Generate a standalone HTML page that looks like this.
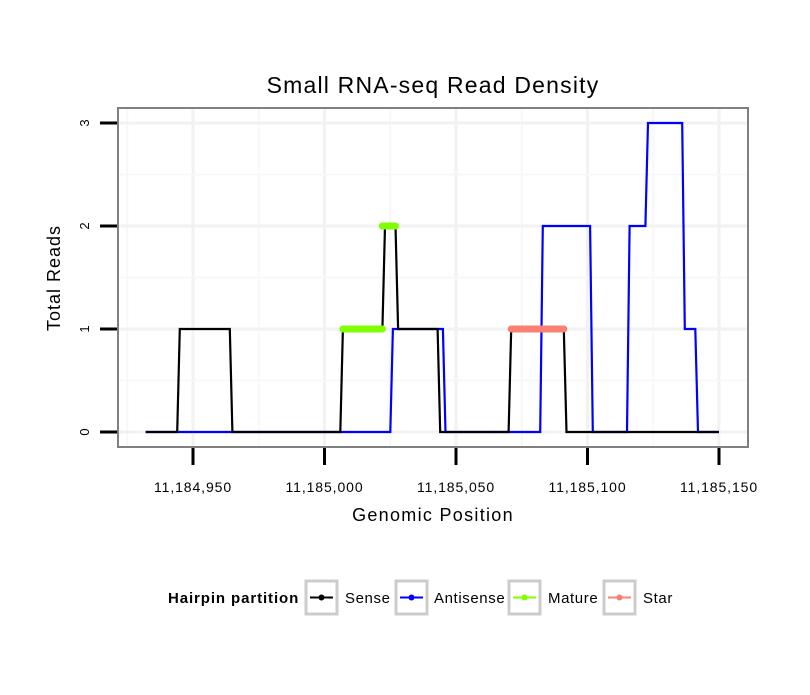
<!DOCTYPE html>
<html><head><meta charset="utf-8"><style>
body{margin:0;background:#fff;}
svg text{font-family:"Liberation Sans",sans-serif;}
</style></head><body>
<svg id="chart" width="810" height="690" xmlns="http://www.w3.org/2000/svg">
<rect width="810" height="690" fill="#fff"/>
<text x="433" y="93" font-size="23" letter-spacing="1.2" text-anchor="middle">Small RNA-seq Read Density</text>
<g id="grid"></g>
<g id="series"></g>
<rect x="118" y="108" width="630" height="339" fill="none" stroke="#808080" stroke-width="2"/>
<g id="axes"></g>
<text x="433" y="521" font-size="18" letter-spacing="1.3" text-anchor="middle">Genomic Position</text>
<text transform="translate(60,278) rotate(-90)" font-size="18" letter-spacing="1" text-anchor="middle">Total Reads</text>
<g>
<text x="168" y="603" font-size="15" letter-spacing="0.9" font-weight="bold">Hairpin partition</text>
<g><rect x="306" y="581" width="31" height="33" fill="#fff" stroke="#ccc" stroke-width="3"/><line x1="310" y1="597.5" x2="333" y2="597.5" stroke="#000" stroke-width="2"/><circle cx="321.5" cy="597.5" r="3" fill="#000"/><text x="345" y="603" font-size="15" letter-spacing="0.6">Sense</text></g>
<g><rect x="396" y="581" width="31" height="33" fill="#fff" stroke="#ccc" stroke-width="3"/><line x1="400" y1="597.5" x2="423" y2="597.5" stroke="#00f" stroke-width="2"/><circle cx="411.5" cy="597.5" r="3" fill="#00f"/><text x="434" y="603" font-size="15" letter-spacing="0.6">Antisense</text></g>
<g><rect x="509" y="581" width="31" height="33" fill="#fff" stroke="#ccc" stroke-width="3"/><line x1="513" y1="597.5" x2="536" y2="597.5" stroke="#7fff00" stroke-width="2"/><circle cx="524.5" cy="597.5" r="3" fill="#7fff00"/><text x="548" y="603" font-size="15" letter-spacing="0.6">Mature</text></g>
<g><rect x="604" y="581" width="31" height="33" fill="#fff" stroke="#ccc" stroke-width="3"/><line x1="608" y1="597.5" x2="631" y2="597.5" stroke="#fa8072" stroke-width="2"/><circle cx="619.5" cy="597.5" r="3" fill="#fa8072"/><text x="643" y="603" font-size="15" letter-spacing="0.6">Star</text></g>
</g>
</svg>
<script>
const base = 11184950;
const xTicks = [11184950, 11185000, 11185050, 11185100, 11185150];
const xTickLabels = ["11,184,950", "11,185,000", "11,185,050", "11,185,100", "11,185,150"];
const yTicks = [0, 1, 2, 3];
const sensePos = [-18, -6, -5, 14, 15, 56, 57, 72, 73, 77, 78, 93, 94, 120, 121, 141, 142, 200];
const senseVal = [0, 0, 1, 1, 0, 0, 1, 1, 2, 2, 1, 1, 0, 0, 1, 1, 0, 0];
const antiPos = [-18, 75, 76, 95, 96, 132, 133, 151, 152, 165, 166, 172, 173, 186, 187, 191, 192, 200];
const antiVal = [0, 0, 1, 1, 0, 0, 2, 2, 0, 0, 2, 2, 3, 3, 1, 1, 0, 0];
const maturePos = [[57, 72], [72, 77]];
const matureVal = [1, 2];
const starPos = [[121, 141]];
const starVal = [1];

const X = p => 193 + (p) * 2.63;
const XA = v => X(v - base);
const Y = v => 432 - v * 103;
const NS = "http://www.w3.org/2000/svg";
function mk(tag, attrs, parent) { const e = document.createElementNS(NS, tag); for (const k in attrs) e.setAttribute(k, attrs[k]); parent.appendChild(e); return e; }
const grid = document.getElementById('grid'), series = document.getElementById('series'), axes = document.getElementById('axes');
mk('rect', {x:118, y:108, width:630, height:339, fill:'#fff'}, grid);
for (let i = 0; i < xTicks.length; i++) {
  [xTicks[i], xTicks[i] - 25].forEach((t, j) => {
    const l = mk('line', {x1:XA(t), x2:XA(t), y1:109, y2:446, stroke: j ? '#f8f8f8' : '#f2f2f2', 'stroke-width': j ? 2 : 3}, grid);
    
    
  });
}
[-0.5, 0, 0.5, 1, 1.5, 2, 2.5, 3].forEach(v => {
  if (Y(v) < 109 || Y(v) > 446) return;
  const l = mk('line', {x1:119, x2:747, y1:Y(v), y2:Y(v), stroke: Number.isInteger(v) ? '#f2f2f2' : '#f8f8f8', 'stroke-width': Number.isInteger(v) ? 3 : 2}, grid);
  
  
});
function line(pos, val, color, name) {
  const pts = pos.map((p, i) => X(p).toFixed(1) + ',' + Y(val[i]).toFixed(1)).join(' ');
  const e = mk('polyline', {points: pts, fill:'none', stroke:color, 'stroke-width':2.2, 'stroke-linejoin':'miter'}, series);
  
  
}
line(antiPos, antiVal, '#00f', 'antisense-line');
line(sensePos, senseVal, '#000', 'sense-line');
function seg(pos, val, color, name) {
  pos.forEach((r, i) => {
    const e = mk('line', {x1:X(r[0]), x2:X(r[1]), y1:Y(val[i]), y2:Y(val[i]), stroke:color, 'stroke-width':7, 'stroke-linecap':'round'}, series);
    
    
  });
}
seg(maturePos, matureVal, '#7fff00', 'mature-segment');
seg(starPos, starVal, '#fa8072', 'star-segment');
xTicks.forEach((t, i) => {
  const tk = mk('line', {x1:XA(t), x2:XA(t), y1:448, y2:465, stroke:'#000', 'stroke-width':3}, axes);
  
  
  const tx = mk('text', {x:XA(t), y:492, 'font-size':14, 'letter-spacing':0.9, 'text-anchor':'middle'}, axes);
  tx.textContent = xTickLabels[i];
  
  
});
yTicks.forEach(v => {
  const tk = mk('line', {x1:100, x2:117, y1:Y(v), y2:Y(v), stroke:'#000', 'stroke-width':3}, axes);
  
  
  const tx = mk('text', {transform:`translate(89,${Y(v)}) rotate(-90)`, 'font-size':13, 'text-anchor':'middle'}, axes);
  tx.textContent = v;
  
  
});
</script>
</body></html>
